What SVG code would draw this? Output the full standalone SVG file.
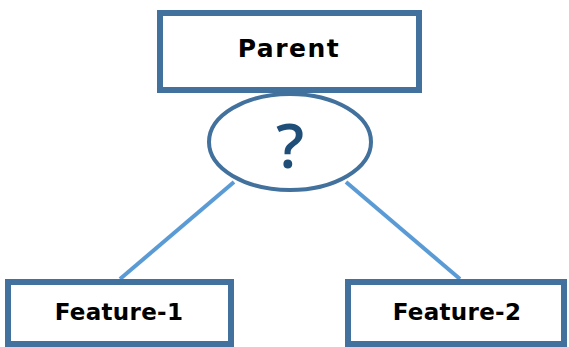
<svg xmlns="http://www.w3.org/2000/svg" width="569" height="347" viewBox="0 0 569 347">
  <style>
    .box { fill: #ffffff; stroke: #41719c; stroke-width: 6; }
    .oval { fill: #ffffff; stroke: #41719c; stroke-width: 4; }
    .edge { stroke: #5b9bd5; stroke-width: 4; fill: none; }
    .label { font-family: "DejaVu Sans", "Liberation Sans", sans-serif; font-weight: bold; fill: #000000; text-anchor: middle; }
  </style>
  <rect width="569" height="347" fill="#ffffff"/>
  <g id="connectors">
    <line class="edge" x1="234" y1="182" x2="120" y2="279"/>
    <line class="edge" x1="346" y1="182" x2="460" y2="279"/>
  </g>
  <g id="parent">
    <rect class="box" x="160" y="13" width="259" height="77"/>
    <text class="label" x="289" y="57" font-size="25" letter-spacing="1.5">Parent</text>
  </g>
  <g id="split">
    <ellipse class="oval" cx="290" cy="142" rx="81" ry="48"/>
    <text x="290" y="168" font-family="Open Sans, DejaVu Sans, sans-serif" font-weight="600" font-size="62" fill="#1f4e79" text-anchor="middle">?</text>
  </g>
  <g id="feature1">
    <rect class="box" x="8" y="282" width="223" height="62"/>
    <text class="label" x="119" y="320" font-size="23" letter-spacing="0.3">Feature-1</text>
  </g>
  <g id="feature2">
    <rect class="box" x="348" y="282" width="216" height="62"/>
    <text class="label" x="457" y="320" font-size="23" letter-spacing="0.3">Feature-2</text>
  </g>
</svg>
